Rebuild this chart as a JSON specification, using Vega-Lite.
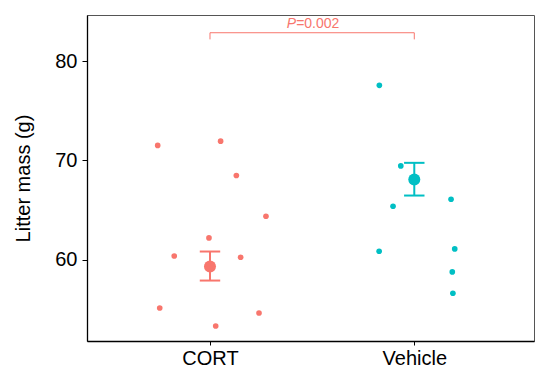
{
  "$schema": "https://vega.github.io/schema/vega-lite/v6.json",
  "width": 447,
  "height": 326,
  "autosize": "none",
  "padding": {"left": 87, "top": 15, "right": 3, "bottom": 28},
  "background": "white",
  "config": {
    "view": {"stroke": "#555555", "strokeWidth": 1},
    "font": "Liberation Sans"
  },
  "datasets": {
    "pts": [
      {"group": "CORT", "x": 0.744, "mass": 71.52},
      {"group": "CORT", "x": 1.052, "mass": 71.95},
      {"group": "CORT", "x": 1.129, "mass": 68.48},
      {"group": "CORT", "x": 1.274, "mass": 64.37},
      {"group": "CORT", "x": 0.995, "mass": 62.18},
      {"group": "CORT", "x": 0.825, "mass": 60.36},
      {"group": "CORT", "x": 1.150, "mass": 60.23},
      {"group": "CORT", "x": 0.754, "mass": 55.11},
      {"group": "CORT", "x": 1.240, "mass": 54.61},
      {"group": "CORT", "x": 1.028, "mass": 53.29},
      {"group": "Vehicle", "x": 1.829, "mass": 77.58},
      {"group": "Vehicle", "x": 1.934, "mass": 69.45},
      {"group": "Vehicle", "x": 2.180, "mass": 66.09},
      {"group": "Vehicle", "x": 1.896, "mass": 65.38},
      {"group": "Vehicle", "x": 1.828, "mass": 60.84},
      {"group": "Vehicle", "x": 2.198, "mass": 61.07},
      {"group": "Vehicle", "x": 2.186, "mass": 58.75},
      {"group": "Vehicle", "x": 2.189, "mass": 56.6}
    ],
    "summary": [
      {"group": "CORT", "x": 1, "capl": 0.95, "capr": 1.05, "mean": 59.29, "lo": 57.88, "hi": 60.81},
      {"group": "Vehicle", "x": 2, "capl": 1.95, "capr": 2.05, "mean": 68.08, "lo": 66.46, "hi": 69.76}
    ],
    "bracket": [
      {"x1": 1, "x2": 2, "xm": 1.5, "ytop": 82.89, "ybot": 82.22, "ytext": 83.33, "p": "P", "rest": "=0.002"}
    ]
  },
  "encoding": {},
  "layer": [
    {
      "data": {"name": "pts"},
      "mark": {"type": "point", "filled": true, "opacity": 1, "size": 32},
      "encoding": {
        "x": {
          "field": "x", "type": "quantitative",
          "scale": {"domain": [0.398, 2.586], "nice": false, "zero": false},
          "axis": {
            "title": null, "values": [1, 2], "grid": false,
            "labelExpr": "datum.value == 1 ? 'CORT' : 'Vehicle'",
            "labelFontSize": 20, "labelColor": "black", "labelPadding": 3,
            "domainColor": "black", "domainWidth": 1.3,
            "tickColor": "black", "tickSize": 4, "tickWidth": 1
          }
        },
        "y": {
          "field": "mass", "type": "quantitative",
          "scale": {"domain": [51.78, 84.68], "nice": false, "zero": false},
          "axis": {
            "title": "Litter mass (g)", "values": [60, 70, 80], "grid": false,
            "labelFontSize": 20, "labelColor": "black", "labelPadding": 5,
            "titleFontSize": 20, "titleFontWeight": "normal", "titleColor": "black", "titlePadding": 21,
            "domainColor": "black", "domainWidth": 1.3,
            "tickColor": "black", "tickSize": 5, "tickWidth": 1
          }
        },
        "color": {
          "field": "group", "type": "nominal",
          "scale": {"domain": ["CORT", "Vehicle"], "range": ["#F8766D", "#00BFC4"]},
          "legend": null
        }
      }
    },
    {
      "data": {"name": "summary"},
      "mark": {"type": "rule", "strokeWidth": 2},
      "encoding": {
        "x": {"field": "x", "type": "quantitative"},
        "y": {"field": "lo", "type": "quantitative"},
        "y2": {"field": "hi"},
        "color": {"field": "group", "type": "nominal"}
      }
    },
    {
      "data": {"name": "summary"},
      "mark": {"type": "rule", "strokeWidth": 2},
      "encoding": {
        "x": {"field": "capl", "type": "quantitative"},
        "x2": {"field": "capr"},
        "y": {"field": "hi", "type": "quantitative"},
        "color": {"field": "group", "type": "nominal"}
      }
    },
    {
      "data": {"name": "summary"},
      "mark": {"type": "rule", "strokeWidth": 2},
      "encoding": {
        "x": {"field": "capl", "type": "quantitative"},
        "x2": {"field": "capr"},
        "y": {"field": "lo", "type": "quantitative"},
        "color": {"field": "group", "type": "nominal"}
      }
    },
    {
      "data": {"name": "summary"},
      "mark": {"type": "point", "filled": true, "opacity": 1, "size": 145},
      "encoding": {
        "x": {"field": "x", "type": "quantitative"},
        "y": {"field": "mean", "type": "quantitative"},
        "color": {"field": "group", "type": "nominal"}
      }
    },
    {
      "data": {"name": "bracket"},
      "mark": {"type": "rule", "color": "#F8766D", "strokeWidth": 1},
      "encoding": {
        "x": {"field": "x1", "type": "quantitative"},
        "x2": {"field": "x2"},
        "y": {"field": "ytop", "type": "quantitative"}
      }
    },
    {
      "data": {"name": "bracket"},
      "mark": {"type": "rule", "color": "#F8766D", "strokeWidth": 1},
      "encoding": {
        "x": {"field": "x1", "type": "quantitative"},
        "y": {"field": "ytop", "type": "quantitative"},
        "y2": {"field": "ybot"}
      }
    },
    {
      "data": {"name": "bracket"},
      "mark": {"type": "rule", "color": "#F8766D", "strokeWidth": 1},
      "encoding": {
        "x": {"field": "x2", "type": "quantitative"},
        "y": {"field": "ytop", "type": "quantitative"},
        "y2": {"field": "ybot"}
      }
    },
    {
      "data": {"name": "bracket"},
      "mark": {"type": "text", "color": "#F8766D", "fontSize": 14, "fontStyle": "italic", "align": "right", "baseline": "alphabetic", "dx": -16},
      "encoding": {
        "x": {"field": "xm", "type": "quantitative"},
        "y": {"field": "ytext", "type": "quantitative"},
        "text": {"field": "p"}
      }
    },
    {
      "data": {"name": "bracket"},
      "mark": {"type": "text", "color": "#F8766D", "fontSize": 14, "align": "left", "baseline": "alphabetic", "dx": -16},
      "encoding": {
        "x": {"field": "xm", "type": "quantitative"},
        "y": {"field": "ytext", "type": "quantitative"},
        "text": {"field": "rest"}
      }
    }
  ]
}
